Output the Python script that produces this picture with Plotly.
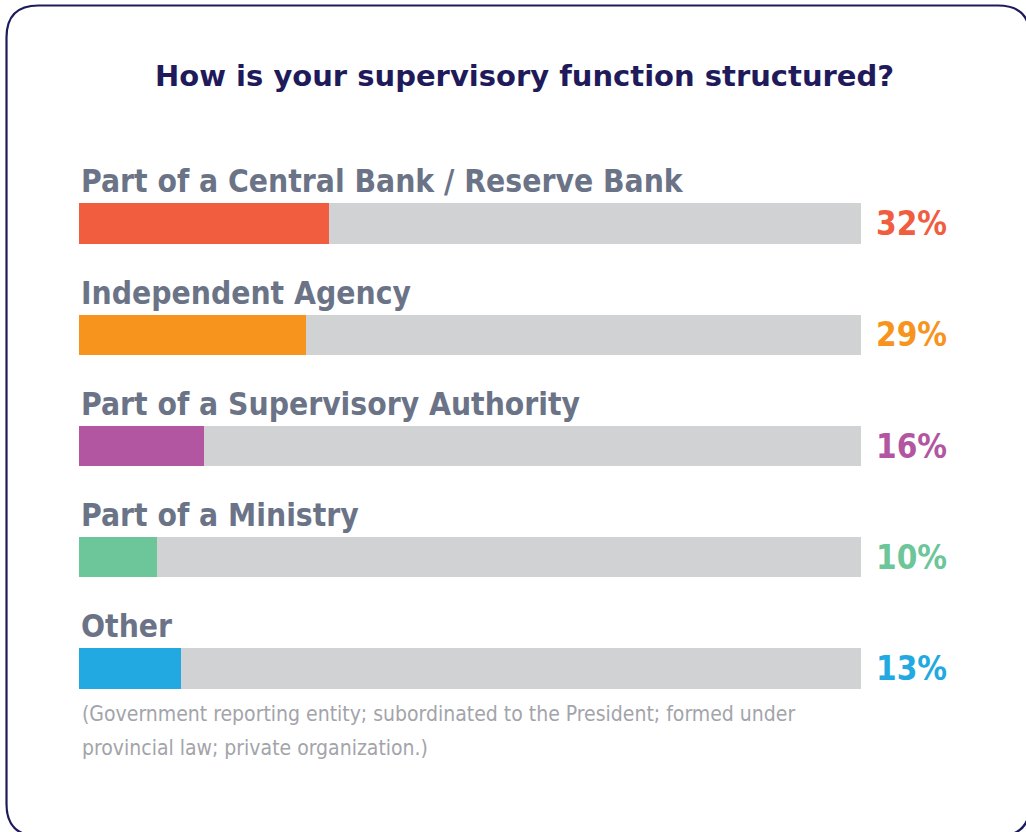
import plotly.graph_objects as go

# Survey answers, top to bottom
categories = [
    "Part of a Central Bank / Reserve Bank",
    "Independent Agency",
    "Part of a Supervisory Authority",
    "Part of a Ministry",
    "Other",
]
shares = [32, 29, 16, 10, 13]
colors = ["#f15d3f", "#f7941d", "#b256a1", "#6dc69a", "#23a9e1"]
title_text = "How is your supervisory function structured?"
footnote_lines = [
    "(Government reporting entity; subordinated to the President; formed under",
    "provincial law; private organization.)",
]

W, H = 1026, 832
NAVY = "#1f1b5b"
LABEL_GREY = "#6b7387"
TRACK = "#d1d2d4"
COND = "DejaVu Sans Condensed, Liberation Sans Narrow, Arial Narrow, sans-serif"

# axis ranges chosen so 0..100 spans the track and rows sit 111px apart
x0_px, x100_px = 79, 861
px_per_unit = (x100_px - x0_px) / 100
x_range = [-x0_px / px_per_unit, (W - x0_px) / px_per_unit]
row0_px, row_step = 223.5, 111.25
y_range = [(H - row0_px) / row_step, -row0_px / row_step]

ypos = list(range(len(categories)))

fig = go.Figure()
fig.add_trace(go.Bar(
    x=[100] * len(categories), y=ypos, orientation="h",
    marker=dict(color=TRACK, line=dict(width=0)), width=0.36,
    hoverinfo="skip", showlegend=False,
))
fig.add_trace(go.Bar(
    x=shares, y=ypos, orientation="h",
    marker=dict(color=colors, line=dict(width=0)), width=0.36,
    hoverinfo="skip", showlegend=False,
))

label_font = dict(family=COND, size=31.5, color=LABEL_GREY, weight="bold")
for i, (cat, val, col) in enumerate(zip(categories, shares, colors)):
    fig.add_annotation(
        x=0, y=i - 0.18, xref="x", yref="y", text=cat, showarrow=False,
        xanchor="left", yanchor="bottom", yshift=2, font=label_font,
    )
    fig.add_annotation(
        x=(949 - x0_px) / px_per_unit, y=i, xref="x", yref="y",
        text=f"{val}%", showarrow=False, xanchor="right", yanchor="middle",
        font=dict(family=COND, size=33, color=col, weight="bold"),
    )

# footnote under the last row, one annotation per line
for k, line in enumerate(footnote_lines):
    fig.add_annotation(
        x=0, y=len(categories) - 1, xref="x", yref="y",
        text=line, showarrow=False, align="left",
        xanchor="left", yanchor="middle", yshift=-(45.5 + 34 * k), xshift=1,
        font=dict(family=COND, size=21, color="#a3a4aa"),
    )

fig.add_annotation(
    x=524 / W, y=1 - 76 / H, xref="paper", yref="paper", text=title_text,
    showarrow=False, xanchor="center", yanchor="middle",
    font=dict(family="DejaVu Sans", size=29, color=NAVY, weight="bold"),
)

# rounded frame
def px(x, y):
    return f"{x / W:.5f},{1 - y / H:.5f}"

L, T, R, B, r = 6.5, 5.5, 1030, 836, 32
path = (
    f"M {px(L + r, T)} L {px(R - r, T)} Q {px(R, T)} {px(R, T + r)} "
    f"L {px(R, B - r)} Q {px(R, B)} {px(R - r, B)} "
    f"L {px(L + r, B)} Q {px(L, B)} {px(L, B - r)} "
    f"L {px(L, T + r)} Q {px(L, T)} {px(L + r, T)} Z"
)
fig.add_shape(type="path", path=path, xref="paper", yref="paper",
              line=dict(color=NAVY, width=2.2), layer="above")

fig.update_layout(
    width=W, height=H, margin=dict(l=0, r=0, t=0, b=0),
    paper_bgcolor="white", plot_bgcolor="white",
    barmode="overlay", bargap=0,
    xaxis=dict(range=x_range, visible=False, fixedrange=True),
    yaxis=dict(range=y_range, visible=False, fixedrange=True),
)

fig.write_html("out.html", config={"displayModeBar": False})
